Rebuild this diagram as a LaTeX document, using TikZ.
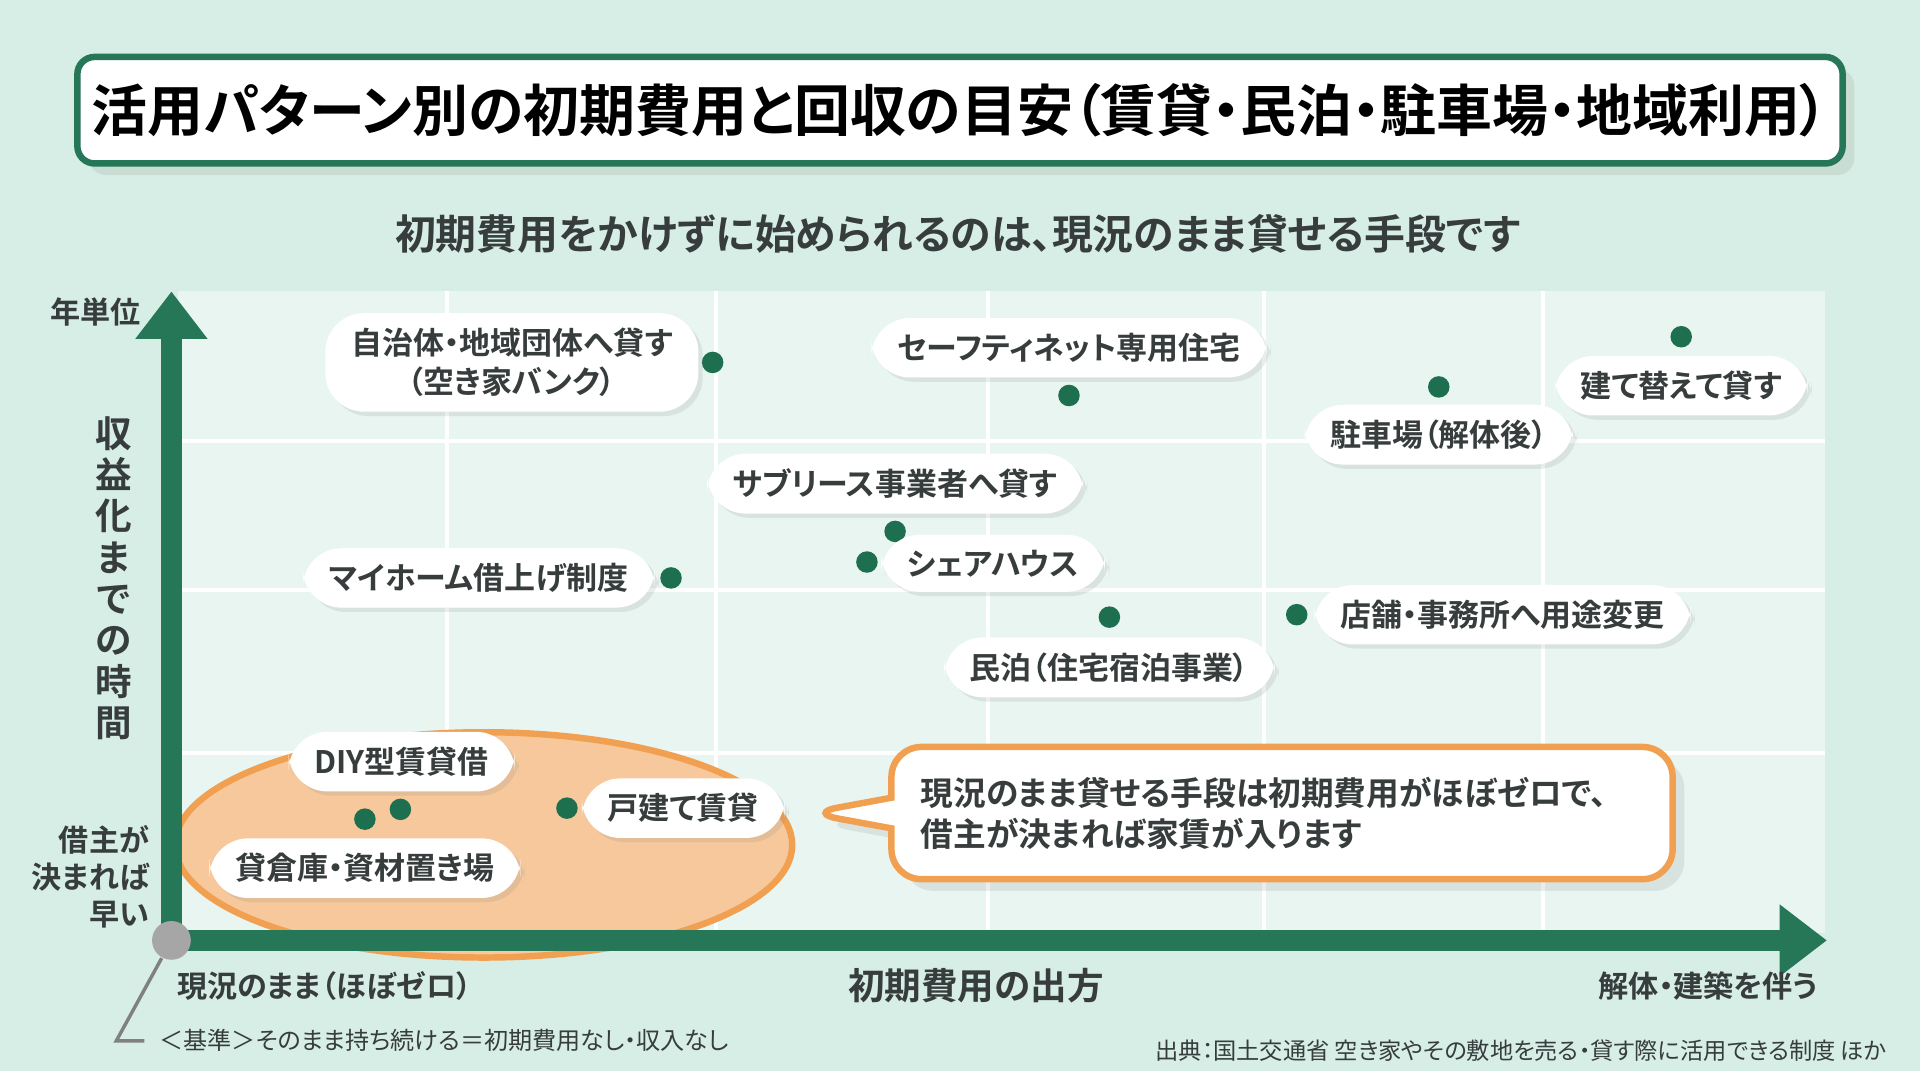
\documentclass[tikz,border=0pt]{standalone}
\usepackage{fontspec}
\setmainfont{Noto Sans CJK JP}[BoldFont={Noto Sans CJK JP Bold}, RawFeature=+palt]
\usetikzlibrary{shapes, shapes.callouts, arrows.meta, positioning, shadows}
\definecolor{bgmint}{RGB}{214,238,229}
\definecolor{panel}{RGB}{232,245,240}
\definecolor{axgreen}{RGB}{38,118,88}
\definecolor{dotgreen}{RGB}{30,110,80}
\definecolor{txtgray}{RGB}{55,60,60}
\definecolor{orgline}{RGB}{240,160,80}
\definecolor{orgfill}{RGB}{246,200,155}
\tikzset{
    pill/.style={rectangle, rounded corners=9pt, fill=white, font=\fontsize{7.2}{9}\selectfont\bfseries, text=txtgray, align=center, inner xsep=6pt, inner ysep=3.5pt, drop shadow={opacity=0.15, shadow xshift=1pt, shadow yshift=-1pt}},
    pt/.style={circle, fill=dotgreen, inner sep=0pt, minimum size=5pt},
    axlabel/.style={font=\fontsize{7}{9}\selectfont\bfseries, text=txtgray, align=center},
    axis/.style={axgreen, line width=5pt, -{Triangle[length=11pt, width=16pt]}}
}
\begin{document}
\begin{tikzpicture}[x=0.1mm, y=-0.1mm]
\useasboundingbox (0,0) rectangle (1568,875);
\fill[bgmint] (0,0) rectangle (1568,875);

% Title and subtitle
\node[draw=axgreen, line width=1.5pt, fill=white, rounded corners=4pt, minimum width=143.2mm, minimum height=8.7mm, font=\fontsize{13}{15}\selectfont\bfseries, drop shadow={opacity=0.15}] (title) at (784,90) {活用パターン別の初期費用と回収の目安（賃貸・民泊・駐車場・地域利用）};
\node[font=\fontsize{9.5}{11}\selectfont\bfseries, text=txtgray] (subtitle) at (782,191) {初期費用をかけずに始められるのは、現況のまま貸せる手段です};

% Panel and grid
\fill[panel] (145,238) rectangle (1490,762);
\foreach \gx in {365,585,807,1032,1260}
    \draw[white, line width=1pt] (\gx,238) -- (\gx,762);
\foreach \gy in {360,482,615}
    \draw[white, line width=1pt] (145,\gy) -- (1490,\gy);

% Low-cost group
\draw[orgline, line width=1.5pt, fill=orgfill] (395,690) ellipse [x radius=252, y radius=92];

% Axes
\coordinate (origin) at (140,768);
\coordinate (ytop) at (140,238);
\coordinate (xend) at (1492,768);
\draw[axis] (origin) -- (ytop);
\draw[axis] (origin) -- (xend);
\node[circle, fill=gray!70, minimum size=9pt, inner sep=0pt] (o) at (origin) {};

% Axis labels
\node[axlabel] (ylong) at (78,255) {年単位};
\node[axlabel, font=\fontsize{8.5}{9.6}\selectfont\bfseries] (ytitle) at (93,472) {収\\益\\化\\ま\\で\\の\\時\\間};
\node[axlabel, font=\fontsize{7}{8.6}\selectfont\bfseries, align=right] (yshort) at (74,716) {借主が\\決まれば\\早い};
\node[axlabel] (xlow) at (265,805) {現況のまま（ほぼゼロ）};
\node[axlabel, font=\fontsize{8.5}{10}\selectfont\bfseries] (xtitle) at (797,805) {初期費用の出方};
\node[axlabel] (xhigh) at (1395,805) {解体・建築を伴う};

% Baseline note and source
\node[font=\fontsize{5.6}{7}\selectfont, text=txtgray, anchor=west] (base) at (118,850) {＜基準＞そのまま持ち続ける＝初期費用なし・収入なし};
\draw[gray, line width=0.8pt] (o) -- (95,850) -- (base.west);
\node[font=\fontsize{5.4}{7}\selectfont, text=txtgray, anchor=east] (source) at (1553,858) {出典：国土交通省 空き家やその敷地を売る・貸す際に活用できる制度 ほか};

% Data points
\foreach \px/\py/\nm in {582/296/akiya, 873/323/safety, 1175/316/parking, 1373/275/rebuild, 731/434/sublease, 708/459/share, 548/472/myhome, 906/504/minpaku, 1059/502/shop, 298/669/soko, 327/661/diy, 463/660/kodate}
    \node[pt] (p-\nm) at (\px,\py) {};

% Labels
\node[pill] (l-akiya) at (418,296) {自治体・地域団体へ貸す\\（空き家バンク）};
\node[pill] (l-safety) at (873,284) {セーフティネット専用住宅};
\node[pill] (l-rebuild) at (1373,315) {建て替えて貸す};
\node[pill] (l-parking) at (1175,355) {駐車場（解体後）};
\node[pill] (l-sublease) at (731,395) {サブリース事業者へ貸す};
\node[pill] (l-share) at (811,460) {シェアハウス};
\node[pill] (l-myhome) at (391,472) {マイホーム借上げ制度};
\node[pill] (l-minpaku) at (906,545) {民泊（住宅宿泊事業）};
\node[pill] (l-shop) at (1227,502) {店舗・事務所へ用途変更};
\node[pill] (l-diy) at (328,622) {DIY型賃貸借};
\node[pill] (l-soko) at (298,709) {貸倉庫・資材置き場};
\node[pill] (l-kodate) at (558,660) {戸建て賃貸};

% Callout
\coordinate (tip) at (660,664);
\node[rectangle callout, callout absolute pointer={(tip)}, draw=orgline, line width=1.5pt, fill=white, rounded corners=7pt, minimum width=63.8mm, minimum height=10.8mm, text width=59mm, align=left, font=\fontsize{7.6}{9.6}\selectfont\bfseries, text=txtgray, drop shadow={opacity=0.15}] (note) at (1047,664) {現況のまま貸せる手段は初期費用がほぼゼロで、\\借主が決まれば家賃が入ります};

\end{tikzpicture}
\end{document}
